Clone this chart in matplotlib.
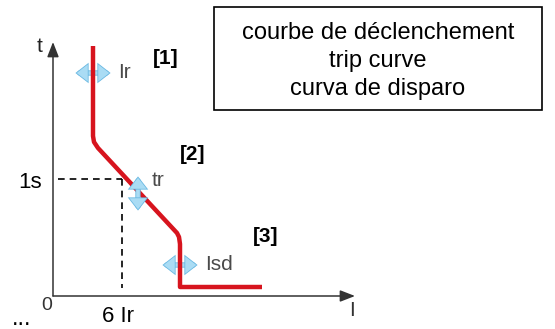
import matplotlib
matplotlib.use("Agg")
import matplotlib.pyplot as plt
from matplotlib.patches import FancyArrowPatch, Rectangle
import matplotlib.patheffects as pe

plt.rcParams['font.family'] = ['Liberation Sans', 'DejaVu Sans']

# Trip curve (chart units, origin at axes intersection)
curve_x = [40, 40, 41, 45, 124, 126, 127, 127, 209]
curve_y = [250, 160, 154, 148, 63, 59, 52, 9, 9]

# Reference dashed lines (1 s at 6 Ir)
ref_x = 69
ref_y = 117

# Adjustment arrows
adj_labels = ["Ir", "tr", "Isd"]
adj_start = [(21, 223), (85, 121), (108, 31)]
adj_end = [(59, 223), (85, 84), (146, 31)]
adj_label_pos = [(65, 223), (99, 116), (152, 32)]
adj_z = [3, 7, 3]

zone_labels = ["[1]", "[2]", "[3]"]
zone_pos = [(113, 238), (140, 141), (213, 60)]

title_lines = ["courbe de déclenchement", "trip curve", "curva de disparo"]

fig = plt.figure(figsize=(5.55, 3.29), dpi=100)
ax = fig.add_axes([0, 0, 1, 1])
ax.set_xlim(-53, 502)
ax.set_ylim(-33, 296)
ax.axis('off')

# axes with arrows
ax.annotate('', xy=(0, 254), xytext=(0, 0),
            arrowprops=dict(arrowstyle='-|>,head_width=0.35,head_length=0.9',
                            color='#333333', lw=1.1, shrinkA=0, shrinkB=0))
ax.annotate('', xy=(302, 0), xytext=(0, 0),
            arrowprops=dict(arrowstyle='-|>,head_width=0.35,head_length=0.9',
                            color='#333333', lw=1.1, shrinkA=0, shrinkB=0))

# dashed reference lines
ax.plot([5, ref_x], [ref_y, ref_y], color='black', lw=1.2, ls=(0, (4, 3)))
ax.plot([ref_x, ref_x], [ref_y, 8], color='black', lw=1.2, ls=(0, (4, 3)))

# trip curve
ax.plot(curve_x, curve_y, color='#d7141e', lw=3.2, solid_joinstyle='round',
        solid_capstyle='butt', zorder=5)

# adjustment double arrows
for lab, s, e, lp, z in zip(adj_labels, adj_start, adj_end, adj_label_pos, adj_z):
    arr = FancyArrowPatch(s, e, arrowstyle='<|-|>,head_width=0.35,head_length=0.45',
                          mutation_scale=10, lw=2.6, color='#aadcf4',
                          shrinkA=2, shrinkB=2, zorder=z, joinstyle='miter')
    arr.set_path_effects([pe.Stroke(linewidth=3.8, foreground='#6ab9e2'), pe.Normal()])
    ax.add_patch(arr)
    ax.text(lp[0], lp[1], lab, fontsize=15, color='#4a4a4a', ha='left', va='center')

for lab, p in zip(zone_labels, zone_pos):
    ax.text(p[0], p[1], lab, fontsize=15, fontweight='bold', ha='center', va='center')

# axis labels
ax.text(-13, 249, 't', fontsize=15, color='#222222', ha='center', va='center')
ax.text(299, -14, 'I', fontsize=15, color='#333333', ha='center', va='center')
ax.text(-6, -9, '0', fontsize=14, color='#333333', ha='center', va='center')
ax.text(-23, 113, '1s', fontsize=16, ha='center', va='center')
ax.text(65, -20, '6 Ir', fontsize=16, ha='center', va='center')
ax.text(-31, -29, '...', fontsize=17, ha='center', va='baseline')

# title box
ax.add_patch(Rectangle((161, 186), 328, 103, fill=False, ec='black', lw=1.2))
for i, line in enumerate(title_lines):
    ax.text(325, 263 - i * 28, line, fontsize=17, ha='center', va='center')

fig.savefig('out.png', dpi=100)
